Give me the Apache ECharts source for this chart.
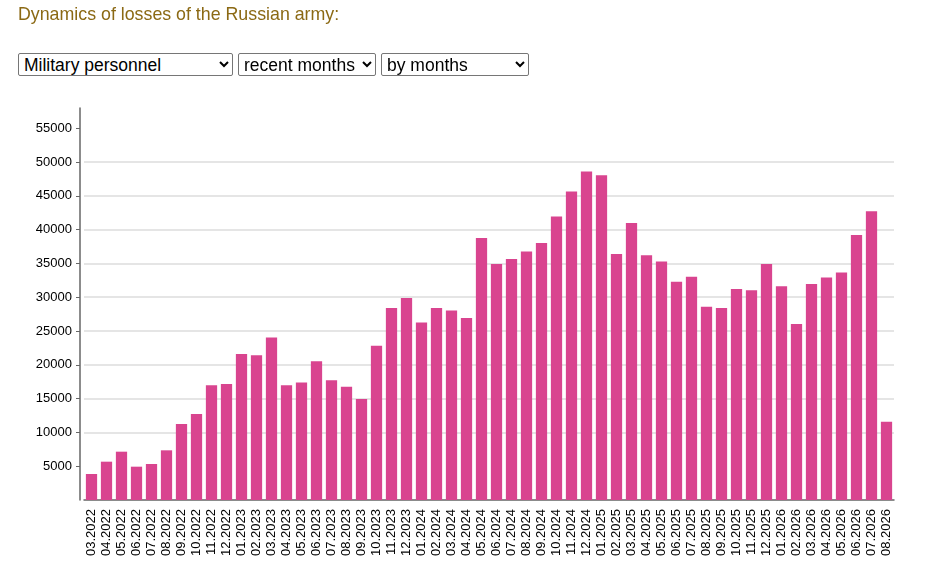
<!DOCTYPE html>
<html>
<head>
<meta charset="utf-8">
<script src="https://cdn.jsdelivr.net/npm/echarts@6/dist/echarts.min.js"></script>
<style>
  html, body { margin: 0; padding: 0; width: 932px; height: 587px; background: #fff; overflow: hidden; font-family: "Liberation Sans", Arial, sans-serif; }
  #chart { position: absolute; left: 0; top: 0; width: 932px; height: 587px; }
  #title { position: absolute; left: 18px; top: 4px; font-size: 17.8px; color: #8b6914; z-index: 2; }
  .sel { position: absolute; top: 53px; height: 23px; z-index: 2; font-family: "Liberation Sans", Arial, sans-serif; font-size: 17.5px; color: #000;
         border: 1px solid #767676; border-radius: 2px; background: #fff; padding: 0 1px; box-sizing: border-box; }
</style>
</head>
<body>
<div id="chart"></div>
<div id="title">Dynamics of losses of the Russian army:</div>
<select class="sel" style="left:18px;width:215px"><option>Military personnel</option></select>
<select class="sel" style="left:238px;width:138px"><option>recent months</option></select>
<select class="sel" style="left:381px;width:148px"><option>by months</option></select>
<script>
const months = ['03.2022','04.2022','05.2022','06.2022','07.2022','08.2022','09.2022','10.2022','11.2022','12.2022',
  '01.2023','02.2023','03.2023','04.2023','05.2023','06.2023','07.2023','08.2023','09.2023','10.2023','11.2023','12.2023',
  '01.2024','02.2024','03.2024','04.2024','05.2024','06.2024','07.2024','08.2024','09.2024','10.2024','11.2024','12.2024',
  '01.2025','02.2025','03.2025','04.2025','05.2025','06.2025','07.2025','08.2025','09.2025','10.2025','11.2025','12.2025',
  '01.2026','02.2026','03.2026','04.2026','05.2026','06.2026','07.2026','08.2026'];
const losses = [3850,5670,7150,4930,5330,7350,11250,12730,16970,17170,
  21610,21410,24030,16970,17370,20520,17710,16770,14950,22840,28420,29900,
  26250,28420,28020,26940,38780,34930,35670,36750,38040,41930,45630,48590,
  48050,36410,41000,36210,35270,32310,33050,28610,28420,31230,31030,34930,
  31620,26050,31970,32910,33650,39220,42720,11590];
const yTicks = [5000,10000,15000,20000,25000,30000,35000,40000,45000,50000,55000];
const yMax = 58000;

const chart = echarts.init(document.getElementById('chart'), null, { renderer: 'canvas' });
chart.setOption({
  animation: false,
  grid: { left: 84, right: 38, top: 108, bottom: 87, containLabel: false },
  xAxis: {
    type: 'category',
    data: months,
    boundaryGap: true,
    axisLine: { lineStyle: { color: '#666', width: 1.5 } },
    axisTick: { alignWithLabel: true, length: 4, lineStyle: { color: '#666' } },
    axisLabel: { rotate: 90, margin: 9, interval: 0, color: '#000', fontSize: 13, fontFamily: 'Liberation Sans, Arial, sans-serif' },
    splitLine: { show: false }
  },
  yAxis: {
    type: 'value',
    min: 0,
    max: yMax,
    interval: 5000,
    offset: 4,
    axisLine: { show: true, lineStyle: { color: '#666', width: 1.5 } },
    axisTick: { show: true, length: 4, lineStyle: { color: '#666' }, customValues: yTicks },
    axisLabel: { margin: 8, color: '#000', fontSize: 13, fontFamily: 'Liberation Sans, Arial, sans-serif', customValues: yTicks,
                 formatter: function (v) { return String(v); } },
    splitLine: { show: true, showMinLine: false, showMaxLine: false, lineStyle: { color: '#ddd', width: 1.5 } }
  },
  series: [{
    type: 'bar',
    data: losses,
    barWidth: '75%',
    itemStyle: { color: '#d9448f' }
  }]
});
</script>
</body>
</html>
